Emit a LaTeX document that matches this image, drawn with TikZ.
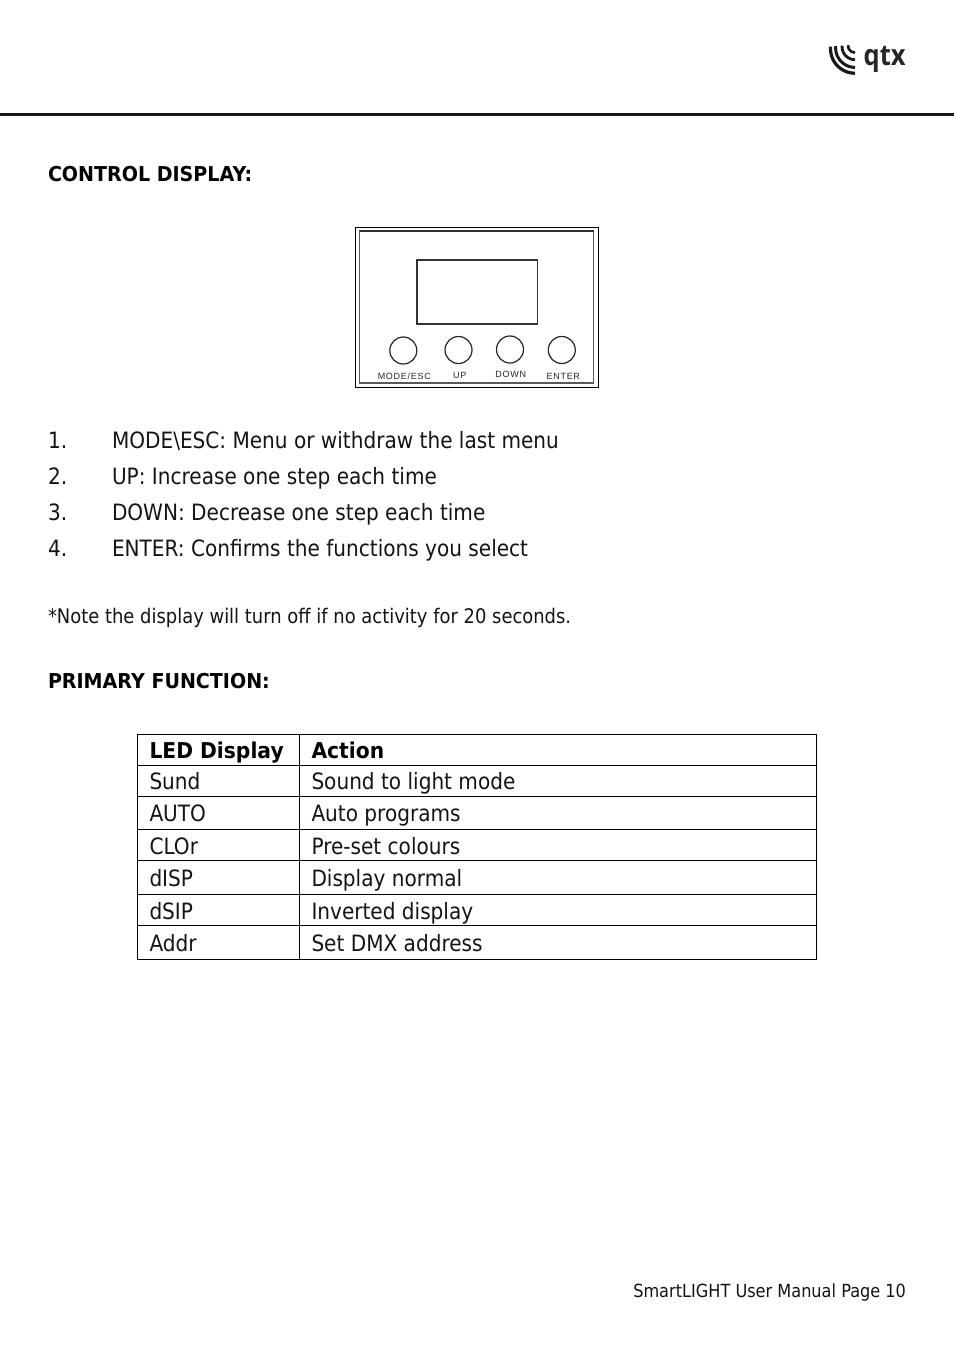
\documentclass[tikz,border=0pt]{standalone}
\usepackage{graphicx}
\usepackage{fontspec}
\setmainfont[FakeStretch=0.892]{DejaVu Sans}
\newfontfamily\boldbody[FakeStretch=0.93]{DejaVu Sans Bold}
\newfontfamily\panelfont[LetterSpace=8]{Liberation Sans}
\newfontfamily\logofont{Open Sans Bold}
\begin{document}
\begin{tikzpicture}[x=1pt,y=-1pt,
  body/.style={anchor=base west,inner sep=0pt,outer sep=0pt,font=\fontsize{22.5}{26}\selectfont,text=black!92},
  note/.style={anchor=base west,inner sep=0pt,outer sep=0pt,font=\fontsize{20.1}{24}\selectfont,text=black!92},
  foottxt/.style={anchor=base east,inner sep=0pt,outer sep=0pt,font=\fontsize{18.1}{22}\selectfont,text=black!92},
  head/.style={anchor=base west,inner sep=0pt,outer sep=0pt,font=\boldbody\fontsize{20.5}{24}\selectfont,text=black},
  thead/.style={anchor=base west,inner sep=0pt,outer sep=0pt,font=\boldbody\fontsize{21.8}{26}\selectfont,text=black},
  paneltxt/.style={anchor=center,inner sep=0pt,outer sep=0pt,font=\panelfont\fontsize{9}{10}\selectfont,text=black!85},
  button/.style={circle,draw=black!85,line width=1.2pt,minimum size=27pt,inner sep=0pt,outer sep=0pt},
  rule/.style={line width=1pt,black}]
\useasboundingbox (0,0) rectangle (954,1350);
\fill[white] (0,0) rectangle (954,1350);
% header
\draw[line width=3.6pt,black!90] (0,114.5) -- (954,114.5);
\foreach \r/\w in {7/2.6,13/2.8,19.5/3.0,24.5/3.2}
  \draw[line width=\w pt,black!90] (855,44.5)+(175:\r) arc[start angle=175,end angle=270,x radius=\r,y radius=-\r];
\node[anchor=base west,inner sep=0pt,font=\logofont\fontsize{29}{31}\selectfont,text=black!85] (logo) at (863.5,65) {\scalebox{0.88}[1]{qtx}};
% headings
\node[head] (h1) at (48,181) {CONTROL DISPLAY:};
\node[head] (h2) at (48,688) {PRIMARY FUNCTION:};
% panel
\node[draw=black,line width=1pt,minimum width=243pt,minimum height=160pt,inner sep=0pt,outer sep=0pt] (outer) at (477,307.5) {};
\draw[black!65,line width=1.3pt] (359.5,231) rectangle (593.8,383);
\draw[black!80,line width=1.8pt] (359.5,231) -- (593.8,231);
\node[draw=black!80,line width=1.4pt,minimum width=120.5pt,minimum height=64pt,inner sep=0pt,outer sep=0pt] (screen) at (477.3,292) {};
\node[button] (b1) at (403.3,350.5) {};
\node[button] (b2) at (458.5,350) {};
\node[button] (b3) at (510,349.5) {};
\node[button] (b4) at (561.8,350) {};
\node[paneltxt] (l1) at (404.3,376) {MODE/ESC};
\node[paneltxt] (l2) at (459.8,375.7) {UP};
\node[paneltxt] (l3) at (510.8,374.7) {DOWN};
\node[paneltxt] (l4) at (563.3,376.5) {ENTER};
% list
\node[body] (n1) at (48,448) {1.};
\node[body] (t1) at (112,448) {MODE\textbackslash ESC: Menu or withdraw the last menu};
\node[body] (n2) at (48,484) {2.};
\node[body] (t2) at (112,484) {UP: Increase one step each time};
\node[body] (n3) at (48,520) {3.};
\node[body] (t3) at (112,520) {DOWN: Decrease one step each time};
\node[body] (n4) at (48,556) {4.};
\node[body] (t4) at (112,556) {ENTER: Confirms the functions you select};
\node[note] (nt) at (48,623) {*Note the display will turn off if no activity for 20 seconds.};
% table
\draw[rule] (137.5,734.5) rectangle (816.5,959.5);
\draw[rule] (299.5,734.5) -- (299.5,959.5);
\foreach \y in {765.5,796.5,829.5,860.5,894.5,925.5}
  \draw[rule] (137.5,\y) -- (816.5,\y);
\node[thead] (c0a) at (149.5,758.5) {LED Display};
\node[thead] (c0b) at (311.5,758.5) {Action};
\node[body] (c1a) at (149.5,789.5) {Sund};
\node[body] (c1b) at (311.5,789.5) {Sound to light mode};
\node[body] (c2a) at (149.5,821.5) {AUTO};
\node[body] (c2b) at (311.5,821.5) {Auto programs};
\node[body] (c3a) at (149.5,854.5) {CLOr};
\node[body] (c3b) at (311.5,854.5) {Pre-set colours};
\node[body] (c4a) at (149.5,886.5) {dISP};
\node[body] (c4b) at (311.5,886.5) {Display normal};
\node[body] (c5a) at (149.5,919) {dSIP};
\node[body] (c5b) at (311.5,919) {Inverted display};
\node[body] (c6a) at (149.5,951) {Addr};
\node[body] (c6b) at (311.5,951) {Set DMX address};
% footer
\node[foottxt] (foot) at (906,1297) {SmartLIGHT User Manual Page 10};
\end{tikzpicture}
\end{document}
